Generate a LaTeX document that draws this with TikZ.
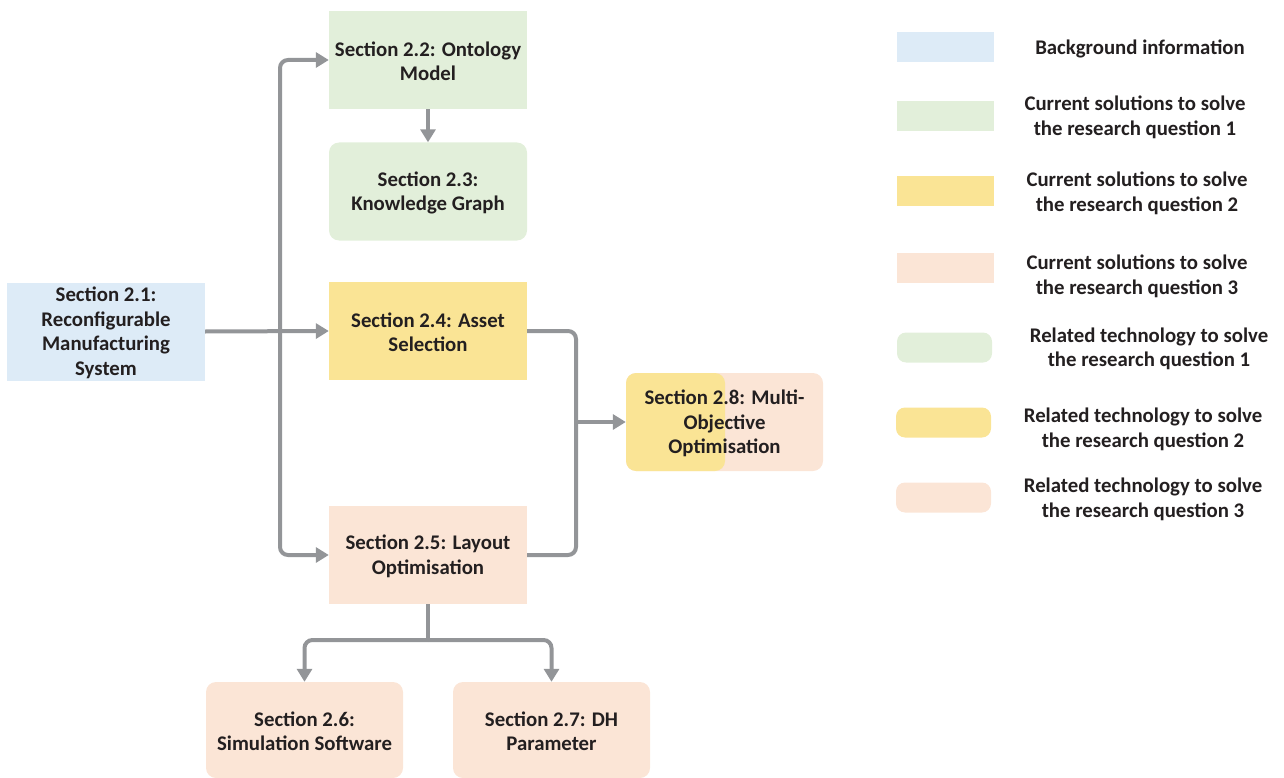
\documentclass[tikz,border=0pt]{standalone}
\usepackage{fontspec}
\setmainfont{Carlito}
\usetikzlibrary{arrows.meta}
\definecolor{bgblue}{HTML}{DDEBF7}
\definecolor{rqgreen}{HTML}{E2EFDA}
\definecolor{rqyellow}{HTML}{FAE495}
\definecolor{rqpeach}{HTML}{FBE5D6}
\definecolor{conngray}{HTML}{939598}
\definecolor{txt}{HTML}{231F20}
\tikzset{
  box/.style={inner sep=0pt, minimum width=198pt, minimum height=98pt},
  sharpbox/.style={box},
  roundbox/.style={box, rounded corners=10pt},
  label/.style={align=center, text=txt, font=\fontsize{20.8}{24.5}\selectfont\bfseries, inner sep=0pt, yshift=-1.5pt},
  swatch/.style={inner sep=0pt, minimum width=97pt, minimum height=30pt},
  line/.style={draw=conngray, line width=4pt, rounded corners=8pt},
  conn/.style={line, -{Triangle[length=13pt,width=15pt]}},
}
\begin{document}
\begin{tikzpicture}[x=1pt,y=-1pt]
\useasboundingbox (0,0) rectangle (1284,778);

% section boxes
\node[sharpbox, fill=bgblue] (s21) at (106,331.5) {};
\node[sharpbox, fill=rqgreen] (s22) at (428,60) {};
\node[roundbox, fill=rqgreen] (s23) at (428,191.5) {};
\node[sharpbox, fill=rqyellow] (s24) at (428,331) {};
\node[sharpbox, fill=rqpeach] (s25) at (428,555) {};
\node[roundbox, fill=rqpeach, minimum width=197pt, minimum height=96pt] (s26) at (304.5,730) {};
\node[roundbox, fill=rqpeach, minimum width=197pt, minimum height=96pt] (s27) at (551.5,730) {};
\node[roundbox, fill=rqpeach, minimum width=197pt] (s28) at (724.5,422) {};
\node[roundbox, fill=rqyellow, minimum width=99pt] (s28y) at (675.5,422) {};

% section titles
\node[label] (t21) at (s21) {Section 2.1:\\Reconfigurable\\Manufacturing\\System};
\node[label] (t22) at (s22) {Section 2.2: Ontology\\Model};
\node[label] (t23) at (s23) {Section 2.3:\\Knowledge Graph};
\node[label] (t24) at (s24) {Section 2.4: Asset\\Selection};
\node[label] (t25) at (s25) {Section 2.5: Layout\\Optimisation};
\node[label] (t26) at (s26) {Section 2.6:\\Simulation Software};
\node[label] (t27) at (s27) {Section 2.7: DH\\Parameter};
\node[label] (t28) at (s28) {Section 2.8: Multi-\\Objective\\Optimisation};

% connectors
\coordinate (ja) at (280,331);
\coordinate (jb) at (576,422);
\coordinate (jc) at (428,640);
\draw[conn] (s21.east) -- (s24.west);
\draw[conn] (ja) |- (s22.west);
\draw[conn] (ja) |- (s25.west);
\draw[conn] (s22.south) -- (s23.north);
\draw[line] (s24.east) -| (jb);
\draw[line] (s25.east) -| (jb);
\draw[conn] (jb) -- (s28.west);
\draw[line] (s25.south) -- (jc);
\draw[conn] (jc) -| (s26.north);
\draw[conn] (jc) -| (s27.north);

% legend
\node[swatch, fill=bgblue] (k1) at (945.5,47) {};
\node[swatch, fill=rqgreen] (k2) at (945.5,116) {};
\node[swatch, fill=rqyellow] (k3) at (945.5,191) {};
\node[swatch, fill=rqpeach] (k4) at (945.5,268) {};
\node[swatch, fill=rqgreen, rounded corners=9pt, minimum width=95pt] (k5) at (944.5,347.5) {};
\node[swatch, fill=rqyellow, rounded corners=9pt, minimum width=95pt] (k6) at (943.5,422.5) {};
\node[swatch, fill=rqpeach, rounded corners=9pt, minimum width=95pt] (k7) at (943.5,497.5) {};

\node[label] (l1) at (1140,47) {Background information};
\node[label] (l2) at (1135,116) {Current solutions to solve\\the research question 1};
\node[label] (l3) at (1137,192) {Current solutions to solve\\the research question 2};
\node[label] (l4) at (1137,275) {Current solutions to solve\\the research question 3};
\node[label] (l5) at (1149,347.5) {Related technology to solve\\the research question 1};
\node[label] (l6) at (1143,428) {Related technology to solve\\the research question 2};
\node[label] (l7) at (1143,498) {Related technology to solve\\the research question 3};
\end{tikzpicture}
\end{document}
